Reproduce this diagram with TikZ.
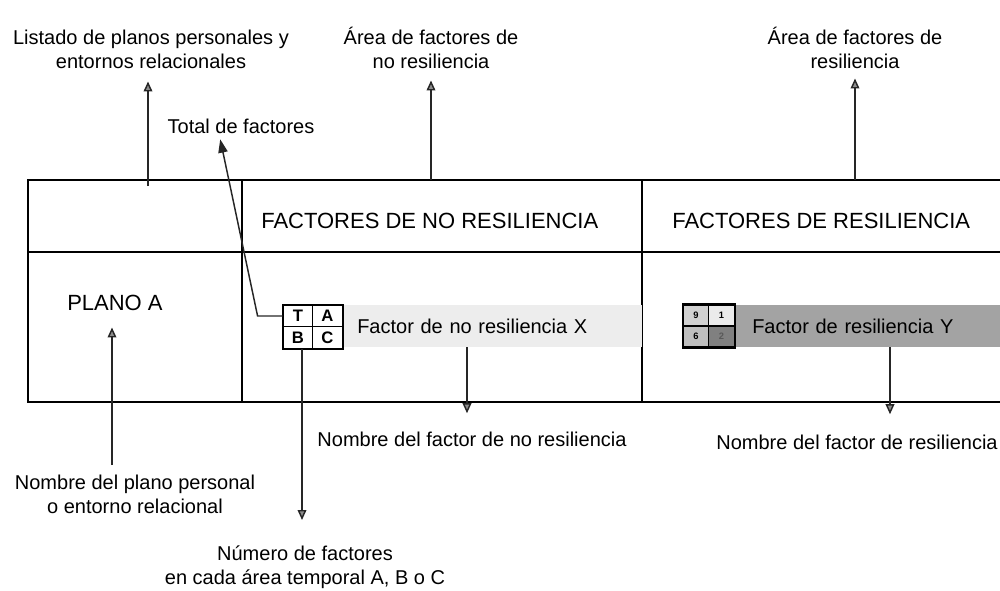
\documentclass[tikz,border=0pt]{standalone}
\usepackage{fontspec}
\setmainfont{Liberation Sans}
\usetikzlibrary{arrows.meta}
\newcommand{\px}{0.75pt}
\tikzstyle{note}=[inner sep=0, align=center, font=\fontsize{15}{18}\selectfont]
\tikzstyle{heading}=[inner sep=0, font=\fontsize{16.5}{20}\selectfont]
\tikzstyle{tableline}=[draw, line width=1.5pt]
\tikzstyle{pointer}=[draw=black!85, line width=1.1pt, -{Triangle[width=6.5pt,length=7.5pt,fill=black!45]}]
\tikzstyle{cell}=[draw, line width=1pt, inner sep=0, minimum width=29.5*\px, minimum height=21.5*\px,
                  font=\fontsize{12.5}{12.5}\selectfont\bfseries]
\tikzstyle{score}=[cell, minimum width=25.5*\px, minimum height=21*\px, font=\fontsize{7}{7}\selectfont\bfseries]
\tikzstyle{bar}=[inner sep=0, anchor=west, minimum height=42*\px, align=left,
                 font=\fontsize{15}{18}\selectfont]

\begin{document}
\begin{tikzpicture}[x=\px, y=-\px]
    \useasboundingbox (0,0) rectangle (1000,590);
    % table
    \draw[tableline] (1000,180) -- (28,180) -- (28,402) -- (1000,402);
    \draw[tableline] (28,252) -- (1000,252);
    \draw[tableline] (242,180) -- (242,402);
    \draw[tableline] (642,180) -- (642,402);
    \node[heading, anchor=base west] (hdrno) at (261,228) {FACTORES DE NO RESILIENCIA};
    \node[heading, anchor=base west] (hdrsi) at (672,228) {FACTORES DE RESILIENCIA};
    \node[heading, anchor=base west] (plano) at (67,310) {PLANO A};

    % factor rows
    \node[bar, fill=black!7, inner xsep=15*\px, text width=270*\px] (barno) at (342,326) {Factor de no resiliencia X};
    \node[bar, fill=black!36, inner xsep=18*\px, text width=250*\px] (barsi) at (734,326) {Factor de resiliencia Y};
    \node[cell] (cT) at (298,316) {T};
    \node[cell] (cA) at (327.5,316) {A};
    \node[cell] (cB) at (298,337.5) {B};
    \node[cell] (cC) at (327.5,337.5) {C};
    \draw[line width=1.4pt] (cT.north west) rectangle (cC.south east);
    \node[score, fill=black!18] (s1) at (696,315.5) {9};
    \node[score, fill=black!8] (s2) at (721.5,315.5) {1};
    \node[score, fill=black!25] (s3) at (696,336.5) {6};
    \node[score, fill=black!50, text=black!65] (s4) at (721.5,336.5) {2};
    \draw[line width=1.4pt] (s1.north west) rectangle (s4.south east);

    % notes (base = last line)
    \node[note, anchor=base] (lista) at (151,68) {Listado de planos personales y\\entornos relacionales};
    \node[note, anchor=base] (areano) at (431,68) {Área de factores de\\no resiliencia};
    \node[note, anchor=base] (areasi) at (855,68) {Área de factores de\\resiliencia};
    \node[note, anchor=base] (total) at (241,133) {Total de factores};
    \node[note, anchor=base] (nombreno) at (472,446) {Nombre del factor de no resiliencia};
    \node[note, anchor=base] (nombresi) at (857,449) {Nombre del factor de resiliencia};
    \node[note, anchor=base] (nombreplano) at (135,513) {Nombre del plano personal\\o entorno relacional};
    \node[note, anchor=base] (numero) at (305,584) {Número de factores\\en cada área temporal A, B o C};

    % pointers
    \coordinate (listafoot) at (148,186);
    \coordinate (areanofoot) at (431,180);
    \coordinate (areasifoot) at (855,180);
    \coordinate (nofoot) at (467,347);
    \coordinate (sifoot) at (890,347);
    \coordinate (planofoot) at (112,465);
    \draw[pointer, shorten >=13*\px] (listafoot) -- (listafoot |- lista.south);
    \draw[pointer, shorten >=12*\px] (areanofoot) -- (areanofoot |- areano.south);
    \draw[pointer, shorten >=10*\px] (areasifoot) -- (areasifoot |- areasi.south);
    \draw[pointer, shorten >=18*\px] (nofoot) -- (nofoot |- nombreno.north);
    \draw[pointer, shorten >=20*\px] (sifoot) -- (sifoot |- nombresi.north);
    \draw[pointer, shorten >=17*\px] (planofoot) -- (planofoot |- plano.south);
    \draw[pointer, shorten >=25*\px] ([xshift=4*\px]cB.south) -- ([xshift=4*\px]cB.south |- numero.north);
    \draw[draw=black!85, line width=1.1pt, -{Triangle[width=7pt,length=10pt]}, shorten >=6*\px]
        (cT.west) -- ++(-25,0) -- ([xshift=-22*\px]total.south);
\end{tikzpicture}
\end{document}
